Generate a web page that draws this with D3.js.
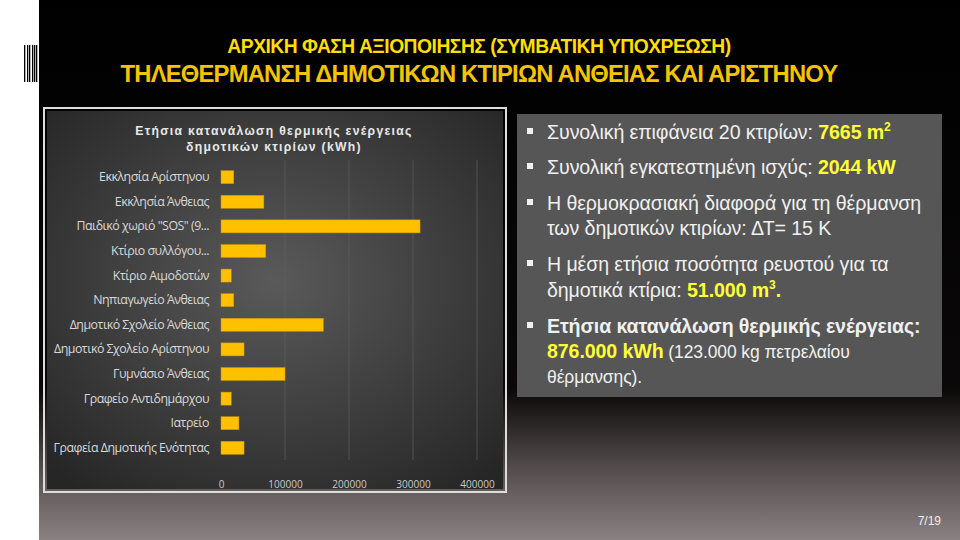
<!DOCTYPE html>
<html><head><meta charset="utf-8">
<script src="https://cdn.jsdelivr.net/npm/d3@7"></script>
<style>body{margin:0;background:#fff}svg{display:block}</style></head>
<body><svg id="c" width="960" height="540"></svg>
<script>
const categories = ["Εκκλησία Αρίστηνου","Εκκλησία Άνθειας","Παιδικό χωριό \"SOS\" (9...","Κτίριο συλλόγου...","Κτίριο Αιμοδοτών","Νηπιαγωγείο Άνθειας","Δημοτικό Σχολείο Άνθειας","Δημοτικό Σχολείο Αρίστηνου","Γυμνάσιο Άνθειας","Γραφείο Αντιδημάρχου","Ιατρείο","Γραφεία Δημοτικής Ενότητας"];
const values = [20000,67000,311000,70000,16000,20000,160000,36000,100000,16000,28000,36000];
const ticks = [0,100000,200000,300000,400000];

const svg = d3.select("#c");
const defs = svg.append("defs");
const bg = defs.append("linearGradient").attr("id","bg").attr("x1",0).attr("y1",0).attr("x2",0).attr("y2",1);
bg.append("stop").attr("offset","0").attr("stop-color","#000");
bg.append("stop").attr("offset","0.72").attr("stop-color","#0a0808");
bg.append("stop").attr("offset","0.88").attr("stop-color","#5a5252");
bg.append("stop").attr("offset","1").attr("stop-color","#8a8282");
const cg = defs.append("radialGradient").attr("id","cg").attr("cx","0.5").attr("cy","0.45").attr("r","0.7");
cg.append("stop").attr("offset","0").attr("stop-color","#5a5a5a");
cg.append("stop").attr("offset","1").attr("stop-color","#262626");

svg.append("rect").attr("x",39).attr("y",0).attr("width",921).attr("height",540).attr("fill","url(#bg)");
[24,27,29,32,34,36].forEach(x=>svg.append("rect").attr("x",x).attr("y",45).attr("width",1.3).attr("height",37).attr("fill","#000"));

svg.append("text").attr("x",479).attr("y",53).attr("text-anchor","middle").attr("fill","#ffde00")
  .attr("font-family","Liberation Sans, Arial").attr("font-weight","bold").attr("font-size",19.3).attr("letter-spacing","-0.5")
  .text("ΑΡΧΙΚΗ ΦΑΣΗ ΑΞΙΟΠΟΙΗΣΗΣ (ΣΥΜΒΑΤΙΚΗ ΥΠΟΧΡΕΩΣΗ)");
svg.append("text").attr("x",479).attr("y",82).attr("text-anchor","middle").attr("fill","#f5c400")
  .attr("font-family","Liberation Sans, Arial").attr("font-weight","bold").attr("font-size",23.8).attr("letter-spacing","-0.8")
  .text("ΤΗΛΕΘΕΡΜΑΝΣΗ ΔΗΜΟΤΙΚΩΝ ΚΤΙΡΙΩΝ ΑΝΘΕΙΑΣ ΚΑΙ ΑΡΙΣΤΗΝΟΥ");

svg.append("rect").attr("x",44).attr("y",108).attr("width",462).attr("height",384).attr("fill","none").attr("stroke","#ddd").attr("stroke-width",2);
svg.append("rect").attr("x",47).attr("y",111).attr("width",456).attr("height",378).attr("fill","url(#cg)");

const x = d3.scaleLinear().domain([0,400000]).range([221,477]);
const y = d3.scaleBand().domain(categories).range([165,460]).paddingInner(0.47).paddingOuter(0.23);
const g = svg.append("g");
ticks.slice(1).forEach(t=>g.append("line").attr("x1",x(t)).attr("x2",x(t)).attr("y1",160).attr("y2",460).attr("stroke","#5e5e5e").attr("stroke-width",0.7));
g.selectAll(".bar").data(values).join("rect")
  .attr("x",x(0)).attr("y",(d,i)=>y(categories[i])).attr("width",d=>x(d)-x(0)).attr("height",y.bandwidth())
  .attr("fill","#ffc000").attr("stroke","#c89000").attr("stroke-width",0.5);
const ax = svg.append("g").attr("transform","translate(0,478)").call(d3.axisBottom(x).tickValues(ticks).tickSize(0).tickFormat(d3.format("d")));
ax.select(".domain").remove();
ax.selectAll("text").attr("fill","#ccc").attr("font-family","Open Sans").attr("font-size",10);
const ay = svg.append("g").attr("transform","translate(212,0)").call(d3.axisLeft(y).tickSize(0));
ay.select(".domain").remove();
ay.selectAll("text").attr("fill","#d8d8d8").attr("font-family","Open Sans").attr("font-size",12.4).attr("letter-spacing","-0.5");

svg.append("text").attr("x",274).attr("y",135).attr("text-anchor","middle").attr("fill","#e8e8e8")
  .attr("font-family","Liberation Sans, Arial").attr("font-weight","bold").attr("font-size",12.2).attr("letter-spacing","1.3")
  .text("Ετήσια κατανάλωση θερμικής ενέργειας");
svg.append("text").attr("x",274).attr("y",151).attr("text-anchor","middle").attr("fill","#e8e8e8")
  .attr("font-family","Liberation Sans, Arial").attr("font-weight","bold").attr("font-size",12.2).attr("letter-spacing","1.3")
  .text("δημοτικών κτιρίων (kWh)");

svg.append("rect").attr("x",517).attr("y",114).attr("width",425).attr("height",283).attr("fill","#565656");
const lines = [
 {y:139,b:true,parts:[["Συνολική επιφάνεια 20 κτιρίων: ","#f0f0f0",0],["7665 m","#ffff33",1],["2","#ffff33",1,"sup"]]},
 {y:174,b:true,parts:[["Συνολική εγκατεστημένη ισχύς: ","#f0f0f0",0],["2044 kW","#ffff33",1]]},
 {y:210,b:true,parts:[["Η θερμοκρασιακή διαφορά για τη θέρμανση","#f0f0f0",0]]},
 {y:235,parts:[["των δημοτικών κτιρίων: ΔΤ= 15 Κ","#f0f0f0",0]]},
 {y:271,b:true,parts:[["Η μέση ετήσια ποσότητα ρευστού για τα","#f0f0f0",0]]},
 {y:297,parts:[["δημοτικά κτίρια: ","#f0f0f0",0],["51.000 m","#ffff33",1],["3","#ffff33",1,"sup"],[".","#ffff33",1]]},
 {y:333,b:true,parts:[["Ετήσια κατανάλωση θερμικής ενέργειας:","#f0f0f0",1]]},
 {y:358,parts:[["876.000 kWh","#ffff33",1],[" (123.000 kg πετρελαίου","#f0f0f0",0,"small"]]},
 {y:383,parts:[["θέρμανσης).","#f0f0f0",0,"small"]]}
];
lines.forEach(l=>{
  if(l.b) svg.append("rect").attr("x",527).attr("y",l.y-11).attr("width",6).attr("height",6).attr("fill","#f0f0f0");
  const t = svg.append("text").attr("x",547).attr("y",l.y).attr("font-family","Liberation Sans, Arial").attr("font-size",19.6).attr("letter-spacing","-0.1");
  l.parts.forEach((p,i)=>{
    const s=t.append("tspan").text(p[0]).attr("fill",p[1]).attr("font-weight",p[2]?"bold":"normal");
    if(p[3]==="sup") s.attr("font-size",12).attr("dy",-8);
    else if(p[3]==="small") s.attr("font-size",17.5);
    if(p[3]!=="sup" && i>0 && l.parts[i-1][3]==="sup") s.attr("dy",8);
  });
});
svg.append("text").attr("x",941).attr("y",525).attr("text-anchor","end").attr("fill","#eee").attr("font-family","Liberation Sans, Arial").attr("font-size",12).text("7/19");
</script></body></html>
